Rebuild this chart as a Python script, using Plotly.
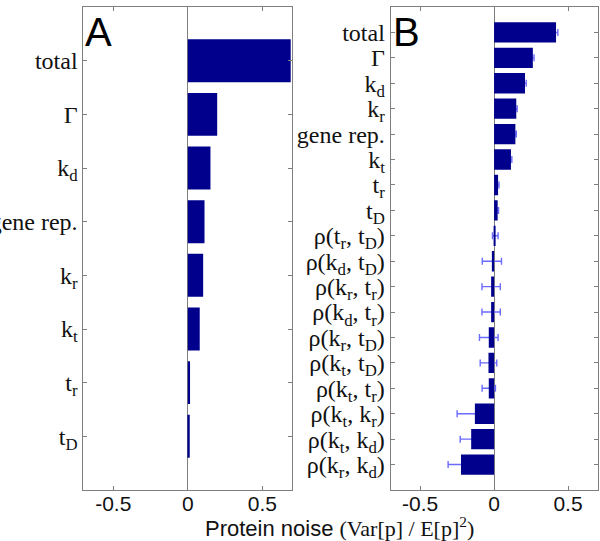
import plotly.graph_objects as go

# ---- data ----
labels_a = ["total", "Γ", "k<sub>d</sub>", "gene rep.", "k<sub>r</sub>", "k<sub>t</sub>",
            "t<sub>r</sub>", "t<sub>D</sub>"]
values_a = [0.69, 0.197, 0.152, 0.112, 0.103, 0.080, 0.015, 0.013]

labels_b = ["total", "Γ", "k<sub>d</sub>", "k<sub>r</sub>", "gene rep.", "k<sub>t</sub>",
            "t<sub>r</sub>", "t<sub>D</sub>",
            "ρ(t<sub>r</sub>, t<sub>D</sub>)", "ρ(k<sub>d</sub>, t<sub>D</sub>)",
            "ρ(k<sub>r</sub>, t<sub>r</sub>)", "ρ(k<sub>d</sub>, t<sub>r</sub>)",
            "ρ(k<sub>r</sub>, t<sub>D</sub>)", "ρ(k<sub>t</sub>, t<sub>D</sub>)",
            "ρ(k<sub>t</sub>, t<sub>r</sub>)", "ρ(k<sub>t</sub>, k<sub>r</sub>)",
            "ρ(k<sub>t</sub>, k<sub>d</sub>)", "ρ(k<sub>r</sub>, k<sub>d</sub>)"]
values_b = [0.419, 0.262, 0.209, 0.150, 0.144, 0.114, 0.027, 0.024,
            0.008, -0.015, -0.020, -0.020, -0.036, -0.038, -0.036, -0.130, -0.155, -0.224]
errors_b = [0.012, 0.008, 0.008, 0.006, 0.006, 0.006, 0.006, 0.006,
            0.019, 0.065, 0.062, 0.062, 0.063, 0.056, 0.045, 0.120, 0.074, 0.087]

x_ticks = [-0.5, 0, 0.5]
x_ticktext = ["-0.5", "0", "0.5"]

BAR = "#00008c"
ERR = "#6b6bff"
GRAY = "#7f7f7f"

pos_a = list(range(len(labels_a)))
pos_b = list(range(len(labels_b)))

fig = go.Figure()

fig.add_trace(go.Bar(x=values_a, y=pos_a, orientation="h", width=0.8,
                     marker=dict(color=BAR, line=dict(width=0)),
                     xaxis="x", yaxis="y", showlegend=False))

# error bars drawn first, hidden under the bars
fig.add_trace(go.Bar(x=values_b, y=pos_b, orientation="h", width=0.8,
                     marker=dict(color="rgba(0,0,0,0)", line=dict(width=0)),
                     error_x=dict(type="data", array=errors_b, color=ERR,
                                  thickness=1.4, width=3.5),
                     xaxis="x2", yaxis="y2", showlegend=False))
fig.add_trace(go.Bar(x=values_b, y=pos_b, orientation="h", width=0.8,
                     marker=dict(color=BAR, line=dict(width=0)),
                     xaxis="x2", yaxis="y2", showlegend=False))

serif = "Liberation Serif"
sans = "Liberation Sans"

xcommon = dict(range=[-0.7, 0.7], tickvals=x_ticks, ticktext=x_ticktext,
               showgrid=False, zeroline=True, zerolinecolor=GRAY, zerolinewidth=1,
               showline=True, linecolor=GRAY, linewidth=1, mirror="ticks",
               ticks="inside", ticklen=4, tickcolor=GRAY, automargin=False,
               ticklabelstandoff=-5,
               tickfont=dict(family=sans, size=21, color="#111"))
ycommon = dict(showgrid=False, zeroline=False, automargin=False,
               showline=True, linecolor=GRAY, linewidth=1, mirror="ticks",
               ticks="inside", ticklen=4, tickcolor=GRAY,
               tickfont=dict(family=serif, size=24, color="#111"))

fig.update_layout(
    width=600, height=541,
    margin=dict(l=0, r=0, t=0, b=0, autoexpand=False),
    paper_bgcolor="white", plot_bgcolor="white",
    barmode="overlay",
    xaxis=dict(domain=[0.139, 0.487], anchor="y", **xcommon),
    xaxis2=dict(domain=[0.651, 0.996], anchor="y2", **xcommon),
    yaxis=dict(domain=[0.0943, 0.987], anchor="x", range=[8.0, -1.0],
               tickvals=pos_a, ticktext=labels_a, **ycommon),
    yaxis2=dict(domain=[0.0943, 0.987], anchor="x2", range=[18.0, -1.0],
                tickvals=pos_b, ticktext=labels_b, **ycommon),
)

fig.add_annotation(text="A", xref="paper", yref="paper", x=0.139, y=0.985,
                   xanchor="left", yanchor="top", showarrow=False,
                   font=dict(family=sans, size=40, color="black"))
fig.add_annotation(text="B", xref="paper", yref="paper", x=0.651, y=0.985,
                   xanchor="left", yanchor="top", showarrow=False,
                   font=dict(family=sans, size=40, color="black"))
fig.add_annotation(
    text="Protein noise <span style='font-family:Liberation Serif'>(Var[p] / E[p]<sup>2</sup>)</span>",
    xref="paper", yref="paper", x=0.566, y=0.025, xanchor="center", yanchor="middle",
    showarrow=False, font=dict(family=sans, size=22, color="#111"))

fig.write_html("out.html", config={"displayModeBar": False},
               post_script="document.body.style.margin='0';document.body.style.padding='0';")
